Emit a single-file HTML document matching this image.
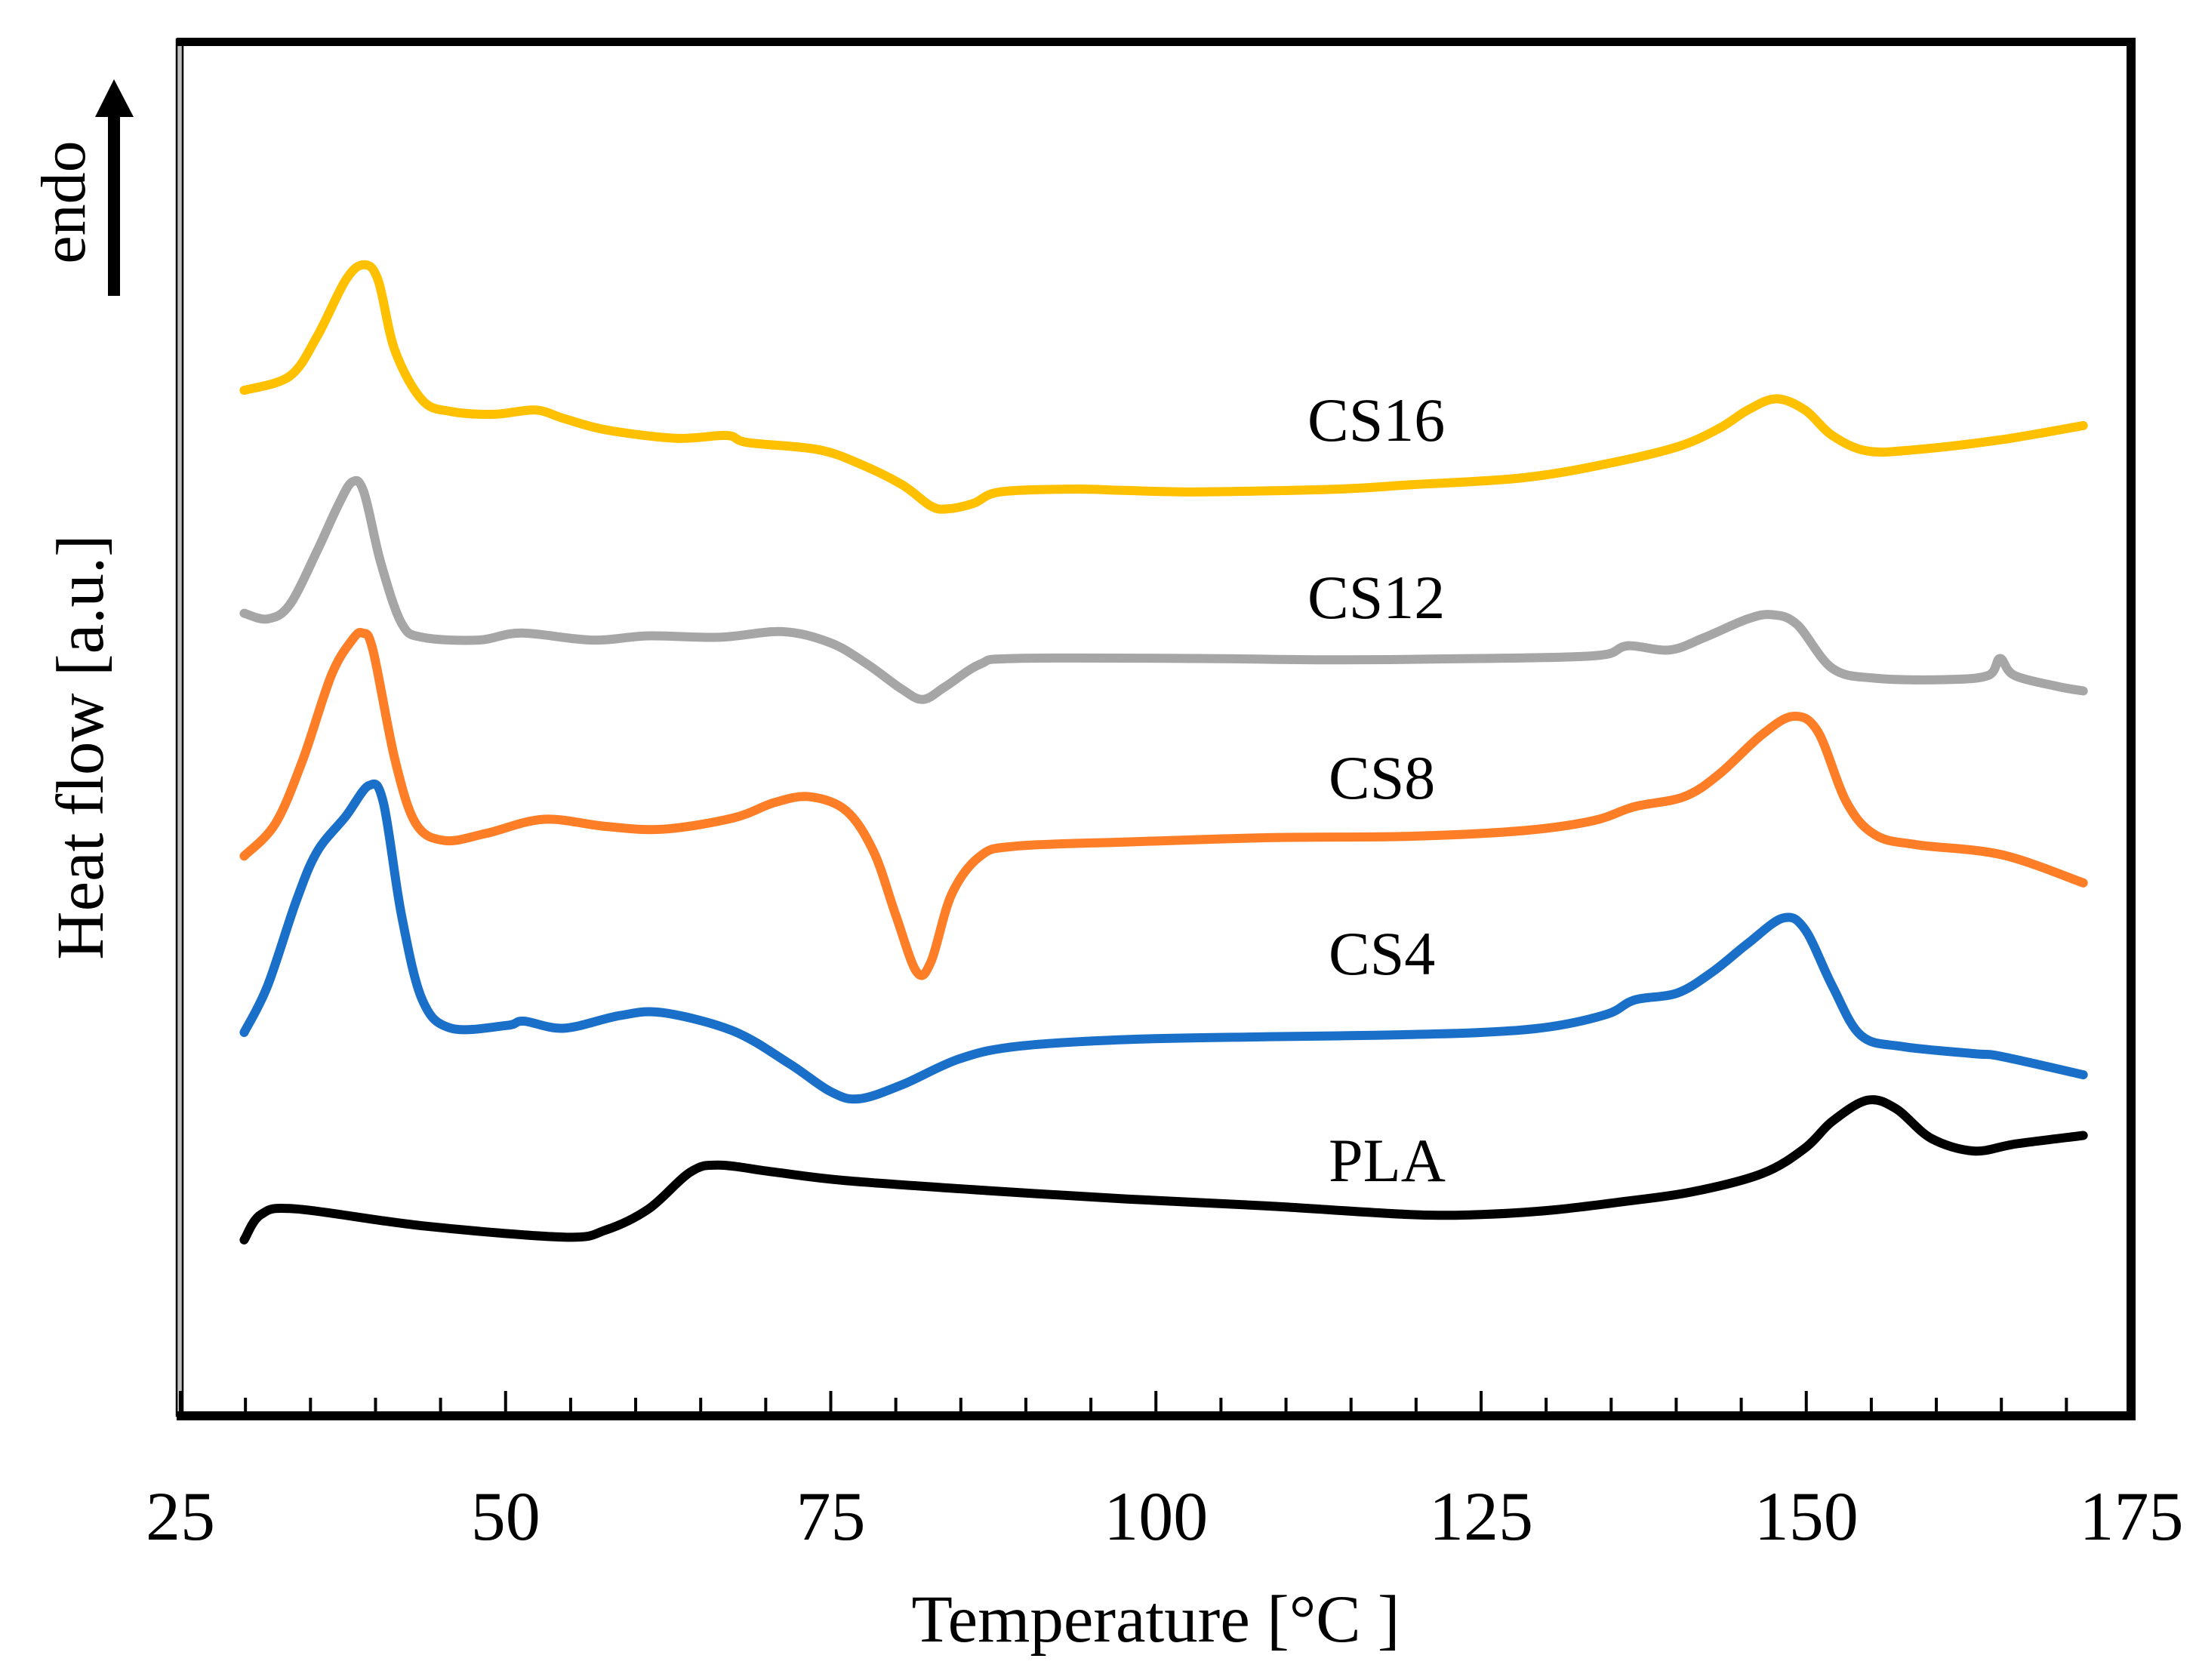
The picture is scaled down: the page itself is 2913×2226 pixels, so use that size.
<!DOCTYPE html>
<html><head><meta charset="utf-8"><style>
html,body{margin:0;padding:0;background:#fff;}
svg{display:block;}
text{font-family:"Liberation Serif",serif;fill:#000;}
</style></head><body>
<svg id="chart" width="2913" height="2226" viewBox="0 0 2913 2226" xmlns="http://www.w3.org/2000/svg">
<rect x="0" y="0" width="2913" height="2226" fill="#fff"/>
<g id="series"></g>
<g id="frame">
  <rect x="234" y="52" width="8" height="1824" fill="#c0c0c0" stroke="#000" stroke-width="2.5"/>
  <rect x="234" y="50" width="2595" height="11" fill="#000"/>
  <rect x="2817" y="50" width="12" height="1831" fill="#000"/>
  <rect x="234" y="1870" width="2595" height="12" fill="#000"/>
</g>
<g id="ticks"></g>
<g id="labels">
  <text x="1732" y="584" font-size="82">CS16</text>
  <text x="1732" y="819" font-size="82">CS12</text>
  <text x="1760" y="1058" font-size="82">CS8</text>
  <text x="1760" y="1291" font-size="82">CS4</text>
  <text x="1760" y="1565" font-size="82">PLA</text>
</g>
<text x="1531" y="2175" font-size="89" text-anchor="middle">Temperature [°C ]</text>
<text transform="translate(136,990) rotate(-90)" font-size="89" text-anchor="middle">Heat flow [a.u.]</text>
<text transform="translate(112,268) rotate(-90)" font-size="84" text-anchor="middle">endo</text>
<g>
  <rect x="143" y="150" width="16" height="242" fill="#000"/>
  <polygon points="151,105 126,155 177,155" fill="#000"/>
</g>
</svg>
<script>
const tickValues = [25,30,35,40,45,50,55,60,65,70,75,80,85,90,95,100,105,110,115,120,125,130,135,140,145,150,155,160,165,170,175];
const tickLabels = ["25","50","75","100","125","150","175"];
const T_PLA  = [29.9,31.2,33.9,43.6,54.5,57.7,61,64.2,66.4,70.7,76.2,87,97.8,108.7,119.5,125,130.3,135.8,141.2,146.6,149.9,152,154.7,156.9,159.6,162.9,166.1,171.3];
const V_PLA  = [130,148,152,140,132,137,152,178,183,178,172,165,159,154,148,148,151,157,164,177,195,214,229,223,202,193,198,204];
const T_CS4  = [29.9,31.7,33.9,35.5,37.7,39.5,40.6,42,43.6,45.8,50.1,51.4,54.5,58.8,62.1,67.5,71.8,75,77.2,80.5,84.8,89.2,97.8,108.7,116.8,125,130.3,134.7,136.8,140.1,142.8,145.5,148.2,149.9,152,154.2,157.4,162.9,165,171.3];
const V_CS4  = [277,310,370,405,430,452,440,360,300,280,282,285,280,289,291,278,255,235,230,240,258,267,272,274,275,277,281,290,300,305,320,340,358,350,310,275,267,262,260,247];
const T_CS8  = [29.9,32.3,34.4,36.6,38.2,39,39.8,41.5,43.1,45.3,48.5,52.9,57.7,62.1,67.5,70.7,73.4,76.2,78.3,80,81.6,82.7,84.3,86.5,89.2,97.8,108.7,119.5,128.2,133.6,136.8,140.6,143.3,146.6,149,150.9,153.1,155.3,158.5,165,171.3];
const V_CS8  = [402,425,470,530,555,560,548,470,425,413,418,428,423,421,429,440,444,434,405,360,320,327,375,402,409,412,415,416,420,427,437,444,460,488,501,490,440,417,410,403,383];
const T_CS12 = [29.9,31.7,33.4,35.5,37.1,38.2,39.1,40.4,42,43.6,47.9,51.2,56.6,61,66.4,71.3,75,77.8,80.5,82.1,83.8,86.5,89.2,103.2,114,125,131.4,134.7,136.3,139.5,142.2,145.5,147.4,149.3,152,155.3,160.7,164,164.9,166,169.4,171.3];
const V_CS12 = [574,570,580,618,650,667,660,610,567,557,555,560,555,558,557,561,553,538,520,513,522,538,542,542,541,542,543,545,551,548,557,570,573,566,535,528,527,530,542,530,522,519];
const T_CS16 = [29.9,33.4,35.5,37.7,39.1,40.2,41.5,43.6,45.8,49.1,52.3,54.5,57.7,63.1,67,68.6,74,77.2,80.5,82.7,84,86,88,93.5,97.8,103.2,114,119.5,128.2,134.7,140.1,143.3,145.5,147.7,149.9,152,154.7,158.5,165,171.3];
const V_CS16 = [732,742,770,810,821,810,760,725,717,715,718,712,704,698,700,695,690,680,665,650,648,652,660,662,661,660,662,665,670,680,692,705,718,726,718,700,689,690,697,707];

const X0=239, XS=17.23, YB=1886, YS=1.87;
function xScale(t){ return X0 + (t-25)*XS; }
function yScale(v){ return YB - v*YS; }

const NS="http://www.w3.org/2000/svg";
const tg=document.getElementById('ticks');
tickValues.forEach(function(t){
  const major = (t%25===0);
  const ln=document.createElementNS(NS,'line');
  const x=xScale(t);
  ln.setAttribute('x1',x);ln.setAttribute('x2',x);
  ln.setAttribute('y1',1871);ln.setAttribute('y2',major?1843:1852);
  ln.setAttribute('stroke','#000');ln.setAttribute('stroke-width',4);
  
  
  tg.appendChild(ln);
});
tickLabels.forEach(function(lbl){
  const tx=document.createElementNS(NS,'text');
  tx.setAttribute('x',xScale(parseFloat(lbl)));
  tx.setAttribute('y',2040);
  tx.setAttribute('font-size',92);
  tx.setAttribute('text-anchor','middle');
  tx.textContent=lbl;
  
  
  tg.appendChild(tx);
});
const sg=document.getElementById('series');
function smoothPath(pts){
  let d='M'+pts[0][0].toFixed(1)+','+pts[0][1].toFixed(1);
  for(let i=0;i<pts.length-1;i++){
    const p0=pts[i-1]||pts[i], p1=pts[i], p2=pts[i+1], p3=pts[i+2]||p2;
    const c1x=p1[0]+(p2[0]-p0[0])/6, c1y=p1[1]+(p2[1]-p0[1])/6;
    const c2x=p2[0]-(p3[0]-p1[0])/6, c2y=p2[1]-(p3[1]-p1[1])/6;
    d+=' C'+c1x.toFixed(1)+','+c1y.toFixed(1)+' '+c2x.toFixed(1)+','+c2y.toFixed(1)+' '+p2[0].toFixed(1)+','+p2[1].toFixed(1);
  }
  return d;
}
function addLine(T,V,color,name){
  const pts=T.map(function(t,i){return [xScale(t),yScale(V[i])];});
  const p=document.createElementNS(NS,'path');
  p.setAttribute('d',smoothPath(pts));
  p.setAttribute('fill','none');p.setAttribute('stroke',color);
  p.setAttribute('stroke-width',12);p.setAttribute('stroke-linejoin','round');p.setAttribute('stroke-linecap','round');
  
  
  sg.appendChild(p);
}
addLine(T_PLA,V_PLA,'#000000','line-pla');
addLine(T_CS4,V_CS4,'#1a70c8','line-cs4');
addLine(T_CS8,V_CS8,'#fd7e26','line-cs8');
addLine(T_CS12,V_CS12,'#a6a6a6','line-cs12');
addLine(T_CS16,V_CS16,'#ffc000','line-cs16');
</script>
</body></html>
